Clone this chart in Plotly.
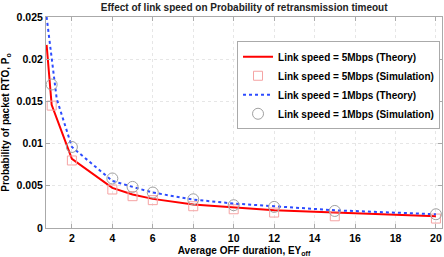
import plotly.graph_objects as go

# Theory curves
x_theory_5 = [0.75, 1, 2, 4, 5, 6, 8, 10, 12, 15, 20]
y_theory_5 = [0.0217, 0.0146, 0.0082, 0.00475, 0.00397, 0.00345, 0.00278, 0.00242, 0.0021, 0.00183, 0.00139]
x_theory_1 = [0.75, 1.25, 2, 4, 5, 6, 8, 10, 12, 15, 20]
y_theory_1 = [0.025, 0.0153, 0.0096, 0.00558, 0.00487, 0.0042, 0.00337, 0.0029, 0.00258, 0.0021, 0.00163]

# Simulation points
x_sim = [1, 2, 4, 5, 6, 8, 10, 12, 15, 20]
y_sim_5 = [0.0145, 0.0080, 0.00456, 0.00377, 0.0033, 0.00258, 0.00222, 0.00183, 0.00139, 0.00112]
y_sim_1 = [0.0170, 0.0096, 0.00587, 0.00487, 0.0042, 0.0034, 0.0027, 0.0025, 0.00202, 0.00163]

x_ticks = [2, 4, 6, 8, 10, 12, 14, 16, 18, 20]
y_ticks = [0, 0.005, 0.01, 0.015, 0.02, 0.025]
y_tick_labels = ["0", "0.005", "0.01", "0.015", "0.02", "0.025"]

FONT = "Liberation Sans"

fig = go.Figure()
fig.add_trace(go.Scatter(x=x_theory_5, y=y_theory_5, mode="lines",
                         name="<b>Link speed = 5Mbps (Theory)</b>",
                         line=dict(color="#ff0000", width=2)))
fig.add_trace(go.Scatter(x=x_sim, y=y_sim_5, mode="markers",
                         name="<b>Link speed = 5Mbps (Simulation)</b>",
                         marker=dict(symbol="square-open", size=9, color="#f5a3a3",
                                     line=dict(width=1))))
fig.add_trace(go.Scatter(x=x_theory_1, y=y_theory_1, mode="lines",
                         name="<b>Link speed = 1Mbps (Theory)</b>",
                         line=dict(color="#2d4cff", width=2, dash="dot")))
fig.add_trace(go.Scatter(x=x_sim, y=y_sim_1, mode="markers",
                         name="<b>Link speed = 1Mbps (Simulation)</b>",
                         marker=dict(symbol="circle-open", size=11, color="#a0a0a0",
                                     line=dict(width=1))))

fig.update_layout(
    width=444, height=257,
    margin=dict(l=46, r=2, t=17, b=29),
    paper_bgcolor="white", plot_bgcolor="white",
    font=dict(family=FONT, size=10.5, color="black"),
    title=dict(text="<b>Effect of link speed on Probability of retransmission timeout</b>",
               x=0.55, xanchor="center", y=0.985, yanchor="top",
               font=dict(size=10, family=FONT, color="#222")),
    showlegend=True,
    legend=dict(x=0.995, y=0.885, xanchor="right", yanchor="top",
                bgcolor="white", bordercolor="#aaaaaa", borderwidth=1,
                font=dict(size=10, family=FONT, color="black"),
                itemwidth=30, tracegroupgap=0),
)
fig.update_xaxes(range=[0.72, 20.3], tickvals=x_ticks,
                 ticktext=[f"<b>{v}</b>" for v in x_ticks],
                 showgrid=True, gridcolor="#e6e6e6", griddash="dot", gridwidth=1,
                 showline=True, linecolor="#aaaaaa", linewidth=1, mirror="ticks",
                 ticks="inside", ticklen=4, tickcolor="#aaaaaa",
                 zeroline=False, automargin=False,
                 title=dict(text="<b>Average OFF duration, EY<sub>off</sub></b>",
                            font=dict(size=10)))
fig.update_yaxes(range=[0, 0.025], tickvals=y_ticks,
                 ticktext=[f"<b>{t}</b>" for t in y_tick_labels],
                 showgrid=True, gridcolor="#e6e6e6", griddash="dot", gridwidth=1,
                 showline=True, linecolor="#aaaaaa", linewidth=1, mirror="ticks",
                 ticks="inside", ticklen=4, tickcolor="#aaaaaa",
                 zeroline=False, automargin=False,
                 title=dict(text="<b>Probability of packet RTO, P<sub>o</sub></b>",
                            font=dict(size=10)))

fig.write_html("out.html", config={"displayModeBar": False},
               post_script="document.body.style.margin='0';")
